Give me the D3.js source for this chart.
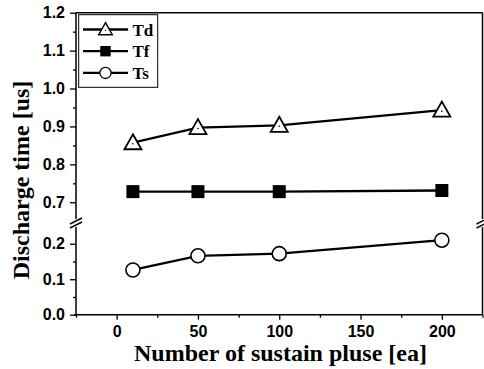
<!DOCTYPE html>
<html>
<head>
<meta charset="utf-8">
<script src="https://cdn.jsdelivr.net/npm/d3@7"></script>
<style>
  body { margin: 0; background: #fff; }
  svg { display: block; }
  .tick text { font-family: "Liberation Sans", Arial, sans-serif; font-weight: bold; font-size: 16px; fill: #000; }
  .domain { display: none; }
  .tick line { stroke: #000; stroke-width: 1.3; }
</style>
</head>
<body>
<svg width="484" height="369"></svg>
<script>
var pulses = [10, 50, 100, 200];
var td = [0.857, 0.897, 0.903, 0.943];
var tf = [0.728, 0.728, 0.728, 0.731];
var ts = [0.126, 0.166, 0.172, 0.210];
var seriesNames = ['Td', 'Tf', 'Ts'];

var xTicks = [0, 50, 100, 150, 200];
var xMinor = [-25, 25, 75, 125, 175, 225];
var upperTicks = [0.7, 0.8, 0.9, 1.0, 1.1, 1.2];
var upperMinor = [0.75, 0.85, 0.95, 1.05, 1.15];
var lowerTicks = [0.0, 0.1, 0.2];
var lowerMinor = [0.05, 0.15];

var svg = d3.select('svg');
var plotL = 76, plotR = 482.5, plotT = 12.7, plotB = 314.7;

var x = d3.scaleLinear().domain([-25, 225]).range([plotL, plotR]);
var yUp = d3.scaleLinear().domain([0.64, 1.2]).range([225, plotT]);
var yLow = d3.scaleLinear().domain([0, 0.25]).range([plotB, 226]);

// axes
svg.append('g')
  .attr('transform', 'translate(0,' + plotB + ')')
  .call(d3.axisBottom(x).tickValues(xTicks).tickSize(5).tickPadding(6).tickFormat(d3.format('d')));
svg.append('g')
  .attr('transform', 'translate(0,' + plotB + ')')
  .call(d3.axisBottom(x).tickValues(xMinor).tickSize(3).tickFormat(''));

svg.append('g')
  .attr('transform', 'translate(' + plotL + ',0)')
  .call(d3.axisLeft(yUp).tickValues(upperTicks).tickSize(6).tickPadding(5).tickFormat(d3.format('.1f')));
svg.append('g')
  .attr('transform', 'translate(' + plotL + ',0)')
  .call(d3.axisLeft(yUp).tickValues(upperMinor).tickSize(3).tickFormat(''));
svg.append('g')
  .attr('transform', 'translate(' + plotL + ',0)')
  .call(d3.axisLeft(yLow).tickValues(lowerTicks).tickSize(6).tickPadding(5).tickFormat(d3.format('.1f')));
svg.append('g')
  .attr('transform', 'translate(' + plotL + ',0)')
  .call(d3.axisLeft(yLow).tickValues(lowerMinor).tickSize(3).tickFormat(''));

// frame with breaks
var frame = svg.append('g').attr('stroke', '#000').attr('stroke-width', 1.5).attr('fill', 'none');
var breakY = 223;
[plotL, plotR].forEach(function(xx) {
  frame.append('line').attr('x1', xx).attr('x2', xx).attr('y1', plotT).attr('y2', breakY - 4);
  frame.append('line').attr('x1', xx).attr('x2', xx).attr('y1', breakY + 4).attr('y2', plotB);
  frame.append('line').attr('x1', xx - 6).attr('x2', xx + 6).attr('y1', breakY + 1).attr('y2', breakY - 5);
  frame.append('line').attr('x1', xx - 6).attr('x2', xx + 6).attr('y1', breakY + 5).attr('y2', breakY - 1);
});
frame.append('line').attr('x1', plotL).attr('x2', plotR).attr('y1', plotT).attr('y2', plotT);
frame.append('line').attr('x1', plotL - 2).attr('x2', plotR).attr('y1', plotB).attr('y2', plotB);

// series
var data = [
  {name: 'Td', values: td, y: yUp, shape: 'tri'},
  {name: 'Tf', values: tf, y: yUp, shape: 'sq'},
  {name: 'Ts', values: ts, y: yLow, shape: 'circ'}
];

function drawMarker(g, shape, cx, cy) {
  if (shape === 'tri') {
    g.append('path')
      .attr('d', 'M' + cx + ',' + (cy - 8.5) + 'L' + (cx + 8.5) + ',' + (cy + 6.5) + 'L' + (cx - 8.5) + ',' + (cy + 6.5) + 'Z')
      .attr('fill', '#fff').attr('stroke', '#000').attr('stroke-width', 1.8);
    g.append('circle').attr('cx', cx).attr('cy', cy + 1).attr('r', 0.8).attr('fill', '#000');
  } else if (shape === 'sq') {
    g.append('rect').attr('x', cx - 6.5).attr('y', cy - 6.5).attr('width', 13).attr('height', 13).attr('fill', '#000');
  } else {
    g.append('circle').attr('cx', cx).attr('cy', cy).attr('r', 7)
      .attr('fill', '#fff').attr('stroke', '#000').attr('stroke-width', 1.6);
  }
}

data.forEach(function(s) {
  var line = d3.line()
    .x(function(d, i) { return x(pulses[i]); })
    .y(function(d) { return s.y(d); });
  svg.append('path').datum(s.values)
    .attr('d', line).attr('fill', 'none').attr('stroke', '#000').attr('stroke-width', 2.3);
  var g = svg.append('g');
  s.values.forEach(function(v, i) {
    drawMarker(g, s.shape, x(pulses[i]), s.y(v));
  });
});

// legend
var legend = svg.append('g');
legend.append('rect').attr('x', 78.7).attr('y', 14.7).attr('width', 79).attr('height', 72.6)
  .attr('fill', '#fff').attr('stroke', '#000').attr('stroke-width', 1);
data.forEach(function(s, i) {
  var ly = 29.5 + i * 21.7;
  legend.append('line').attr('x1', 83).attr('x2', 128).attr('y1', ly).attr('y2', ly)
    .attr('stroke', '#000').attr('stroke-width', 2.3);
  var mg = legend.append('g').attr('transform', 'translate(' + 105.5 + ',' + ly + ') scale(0.8)');
  drawMarker(mg, s.shape, 0, 0);
  legend.append('text').attr('x', 132.5).attr('y', ly + 6)
    .attr('font-family', '"Liberation Serif", "Times New Roman", serif')
    .attr('font-weight', 'bold').attr('font-size', 17).text(s.name);
});

// titles
svg.append('text')
  .attr('transform', 'translate(28.5,180) rotate(-90)')
  .attr('text-anchor', 'middle')
  .attr('font-family', '"Liberation Serif", "Times New Roman", serif')
  .attr('font-weight', 'bold').attr('font-size', 24)
  .text('Discharge time [us]');
svg.append('text')
  .attr('x', 280.5).attr('y', 360.5)
  .attr('text-anchor', 'middle')
  .attr('font-family', '"Liberation Serif", "Times New Roman", serif')
  .attr('font-weight', 'bold').attr('font-size', 24)
  .text('Number of sustain pluse [ea]');
</script>
</body>
</html>
